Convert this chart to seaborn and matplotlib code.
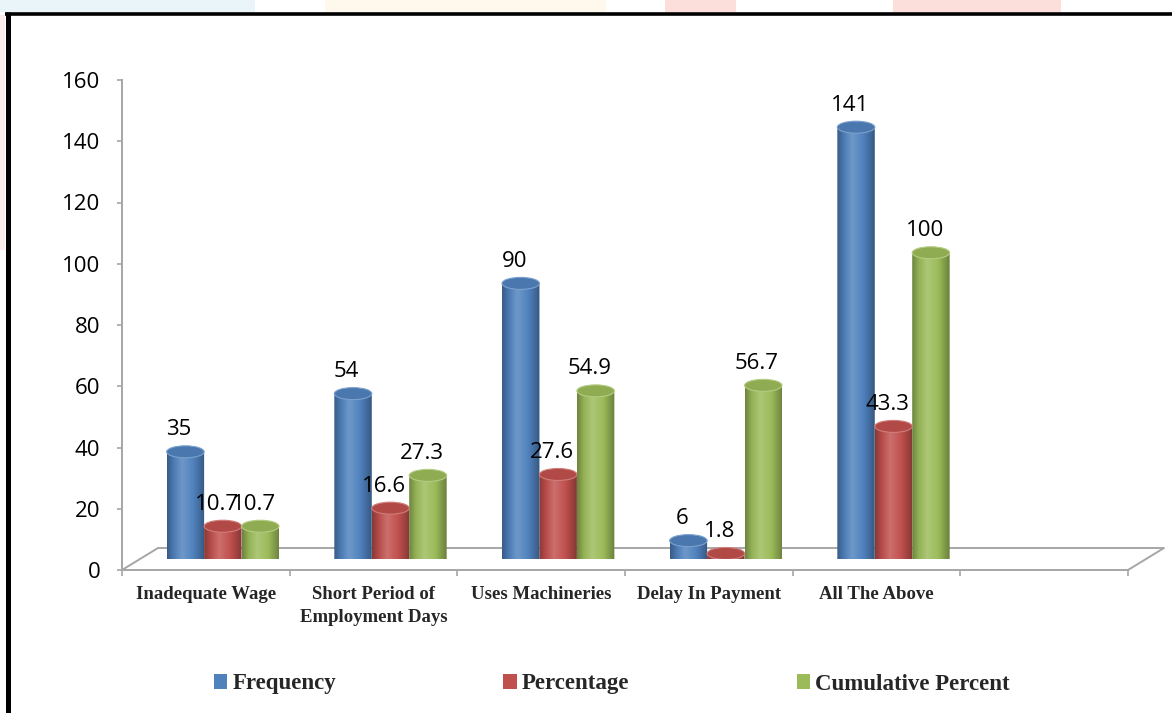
import numpy as np
import pandas as pd
import matplotlib
matplotlib.use("Agg")
import matplotlib.pyplot as plt
from matplotlib.colors import LinearSegmentedColormap, to_rgb
from matplotlib.patches import Ellipse, Patch, PathPatch, Rectangle
from matplotlib.path import Path
from matplotlib.lines import Line2D
from matplotlib.font_manager import FontProperties
import seaborn as sns

# ---- data -------------------------------------------------------------
categories = [
    "Inadequate Wage",
    "Short Period of\nEmployment Days",
    "Uses Machineries",
    "Delay In Payment",
    "All The Above",
]
series_names = ["Frequency", "Percentage", "Cumulative Percent"]
frequency = [35, 54, 90, 6, 141]
percentage = [10.7, 16.6, 27.6, 1.8, 43.3]
cumulative = [10.7, 27.3, 54.9, 56.7, 100]
y_ticks = [0, 20, 40, 60, 80, 100, 120, 140, 160]

series_colors = ["#4F81BD", "#C0504D", "#9BBB59"]
axis_gray = "#A6A6A6"

series = dict(zip(series_names, [frequency, percentage, cumulative]))
df = pd.DataFrame(
    [(c, s, v) for s, vals in series.items() for c, v in zip(categories, vals)],
    columns=["Category", "Series", "Value"],
)

# ---- style ------------------------------------------------------------
sns.set_style("white")
plt.rcParams["font.family"] = ["Open Sans", "DejaVu Sans"]

W, H = 1172, 713
fig = plt.figure(figsize=(W / 100, H / 100), dpi=100)
fig.patch.set_facecolor("white")


def px_rect(left, top, right, bottom):
    return [left / W, 1 - bottom / H, (right - left) / W, (bottom - top) / H]


def fx(px):
    return px / W


def fy(py):
    return 1 - py / H


# faint page colours peeking above the chart frame
for x0, x1, col in [(0, 255, "#EAF5F9"), (325, 606, "#FFF8EC"),
                    (665, 736, "#FCDFDA"), (893, 1061, "#FCDFDA")]:
    fig.add_artist(Rectangle((fx(x0), fy(12)), (x1 - x0) / W, 12 / H,
                             transform=fig.transFigure, facecolor=col,
                             edgecolor="none", zorder=0))
fig.add_artist(Rectangle((0, fy(250)), fx(5), 235 / H, transform=fig.transFigure,
                         facecolor="#FCEBE8", edgecolor="none", zorder=0))

# chart frame (top and left edges)
fig.add_artist(Line2D([fx(5), 1.0], [fy(13.5), fy(13.5)], transform=fig.transFigure,
                      color="black", lw=2.6, solid_capstyle="butt", zorder=10))
fig.add_artist(Line2D([fx(7.5), fx(7.5)], [fy(12), 0], transform=fig.transFigure,
                      color="black", lw=3.6, solid_capstyle="butt", zorder=10))

# ---- front axis: value scale, category ticks and the floor outline -----
ax_f = fig.add_axes(px_rect(122, 80, 1128, 570), zorder=1)
ax_f.patch.set_alpha(0)
ax_f.set_xlim(-0.5, 5.5)
ax_f.set_ylim(0, 160)
for side in ["top", "right"]:
    ax_f.spines[side].set_visible(False)
for side in ["left", "bottom"]:
    ax_f.spines[side].set_color(axis_gray)
    ax_f.spines[side].set_linewidth(1.4)

ax_f.set_yticks(y_ticks)
ax_f.tick_params(axis="y", length=3.6, width=1.2, color=axis_gray, pad=12,
                 labelsize=16, labelcolor="black", left=True)
for lbl in ax_f.get_yticklabels():
    lbl.set_fontfamily(["Open Sans", "DejaVu Sans"])

ax_f.set_xticks(range(len(categories)))
ax_f.set_xticklabels(categories, fontfamily="Liberation Serif", fontweight="bold",
                     fontsize=13.5, linespacing=1.45)
ax_f.set_xticks(np.arange(-0.5, 6.0, 1.0), minor=True)
ax_f.tick_params(axis="x", which="major", length=0, pad=11.5, bottom=True)
ax_f.tick_params(axis="x", which="minor", length=4.5, width=1.2, color=axis_gray,
                 bottom=True, direction="out")

# floor: back edge sits up and to the right of the front axis
x_unit_px = (1128 - 122) / 6.0
y_unit_px = (570 - 80) / 160.0
dx, dy = 36 / x_unit_px, 22 / y_unit_px
ax_f.plot([-0.5, -0.5 + dx, 5.5 + dx, 5.5], [0, dy, dy, 0], color=axis_gray,
          lw=1.4, clip_on=False, zorder=1)

# ---- bars --------------------------------------------------------------
ax = fig.add_axes(px_rect(139, 69, 1145, 559), zorder=2)
ax.patch.set_alpha(0)
sns.barplot(data=df, x="Category", y="Value", hue="Series", order=categories,
            hue_order=series_names, palette=series_colors, width=0.67,
            saturation=1, errorbar=None, legend=False, ax=ax)
ax.set_xlim(-0.5, 5.5)
ax.set_ylim(0, 160)
ax.axis("off")


def mix(c, other, t):
    c, o = np.array(to_rgb(c)), np.array(to_rgb(other))
    return tuple(c * (1 - t) + o * t)


def cylinder_cmap(c):
    stops = [(0.0, mix(c, "black", 0.30)), (0.18, mix(c, "black", 0.05)),
             (0.40, mix(c, "white", 0.18)), (0.70, c),
             (1.0, mix(c, "black", 0.32))]
    return LinearSegmentedColormap.from_list("cyl", stops)


ell_h = 12 / y_unit_px  # cap ellipse height in value units
theta = np.linspace(np.pi, 2 * np.pi, 48)
grad = np.linspace(0, 1, 256)[None, :]

for k, cont in enumerate(ax.containers):
    base = series_colors[k]
    cmap = cylinder_cmap(base)
    for bar, v in zip(cont, series[series_names[k]]):
        x0, w, h = bar.get_x(), bar.get_width(), bar.get_height()
        xc = x0 + w / 2
        bar.set_visible(False)

        arc = np.column_stack([xc + w / 2 * np.cos(theta), ell_h / 2 * np.sin(theta)])
        verts = np.vstack([[x0, h], arc, [x0 + w, h], [x0, h]])
        body = PathPatch(Path(verts, closed=True), transform=ax.transData,
                         facecolor="none", edgecolor="none")
        ax.add_patch(body)
        im = ax.imshow(grad, cmap=cmap, extent=(x0, x0 + w, -ell_h / 2, h),
                       aspect="auto", origin="lower", interpolation="bilinear",
                       zorder=2)
        im.set_clip_path(body)

        ax.add_patch(Ellipse((xc, h), w, ell_h, facecolor=mix(base, "black", 0.08),
                             edgecolor=mix(base, "white", 0.25), lw=0.8, zorder=3))

        ax.annotate(f"{v:g}", (xc, h), xytext=(-4.5, 15.8), textcoords="offset points",
                    ha="center", va="center", fontsize=16, color="black", zorder=5,
                    annotation_clip=False)

ax.set_xlim(-0.5, 5.5)
ax.set_ylim(0, 160)

# ---- legend ------------------------------------------------------------
handles = [Patch(facecolor=c, edgecolor="none", label=s)
           for s, c in zip(series_names, series_colors)]
fig.legend(handles=handles, loc="center left", bbox_to_anchor=(fx(214), fy(684)),
           ncol=3, frameon=False,
           prop=FontProperties(family="Liberation Serif", weight="bold", size=16.5),
           handlelength=0.58, handleheight=0.58, handletextpad=0.22,
           columnspacing=7.3, borderpad=0, borderaxespad=0)

fig.savefig("out.png", dpi=100, facecolor="white")
